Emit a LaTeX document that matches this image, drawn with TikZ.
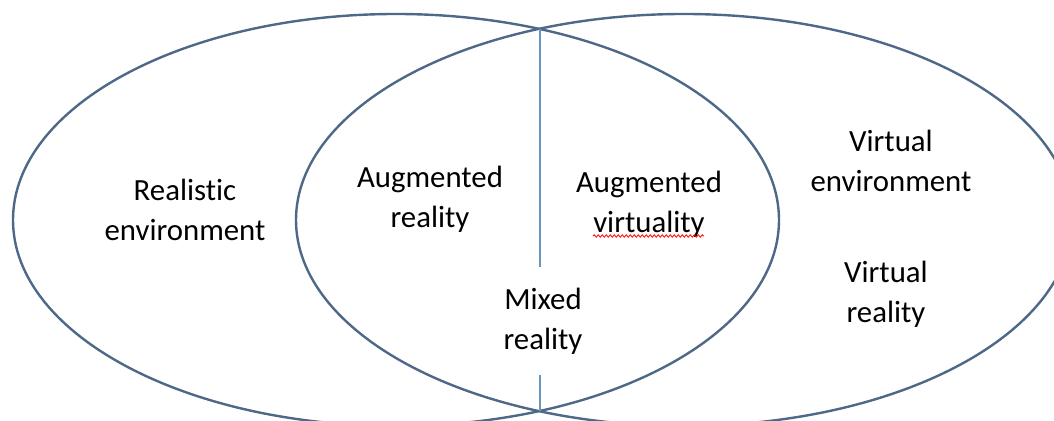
\documentclass[tikz,border=0pt]{standalone}
\usepackage{fontspec}
\setmainfont{Carlito}[Ligatures={NoCommon}]
\usepackage{tikz}
\usetikzlibrary{decorations.pathmorphing}
\definecolor{ringblue}{RGB}{78,104,136}
\definecolor{splitblue}{RGB}{104,150,192}

\begin{document}
\begin{tikzpicture}[x=0.5pt,y=0.5pt,
		ring/.style={ringblue, line width=1.2pt},
		split/.style={splitblue, line width=0.8pt},
		label/.style={align=center, font=\fontsize{15.4}{20}\selectfont, inner sep=0pt}]
					\useasboundingbox (0,0) rectangle (1054,421);
					\clip (0,0) rectangle (1054,421);
					
					\draw[ring] (396,201) ellipse [x radius=383, y radius=206];
					\draw[ring] (684,201) ellipse [x radius=388, y radius=206];
					
					\coordinate (top) at (540,392);
					\coordinate (bot) at (540,10);
					
					\node[label] (real) at (185,211) {Realistic\\environment};
					\node[label] (ar) at (430,222) {Augmented\\reality};
					\node[label] (av) at (649,217) {Augmented\\virtuality};
					\node[label] (venv) at (891,260) {Virtual\\environment};
					\node[label] (vr) at (886,127) {Virtual\\reality};
					\node[label, inner ysep=10pt] (mixed) at (543,100) {Mixed\\reality};
					
					\draw[split] (top) -- (top |- mixed.north);
					\draw[split] (bot |- mixed.south) -- (bot);
					
					% spell-check squiggle
					\coordinate (sqa) at (593,185);
					\coordinate (sqb) at (704,185);
					\draw[red, line width=0.4pt, decorate, decoration={snake, amplitude=0.6pt, segment length=2pt}] (sqa) -- (sqb);
				\end{tikzpicture}
\end{document}
